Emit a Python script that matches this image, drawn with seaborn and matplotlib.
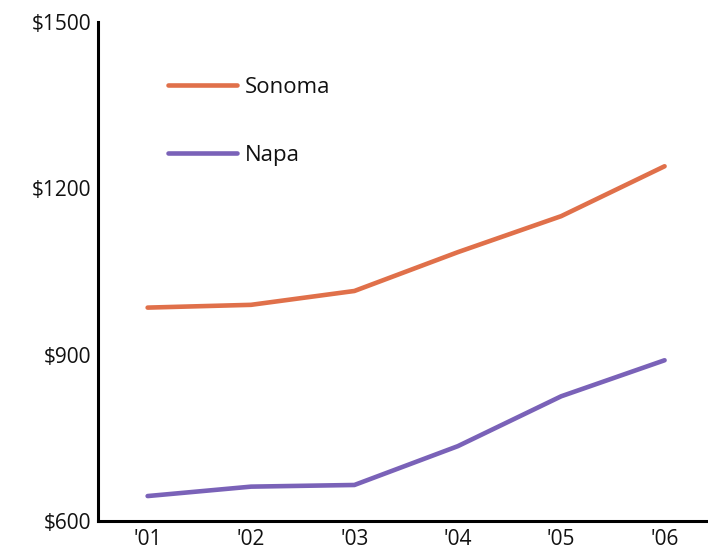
import numpy as np
import pandas as pd
import matplotlib
matplotlib.use("Agg")
import matplotlib.pyplot as plt
import seaborn as sns

years = ["'01", "'02", "'03", "'04", "'05", "'06"]
sonoma = [985, 990, 1015, 1085, 1150, 1240]
napa = [645, 662, 665, 735, 825, 890]
y_ticks = [600, 900, 1200, 1500]

df = pd.DataFrame({
    'pos': list(range(len(years))) * 2,
    'value': sonoma + napa,
    'region': ['Sonoma'] * len(years) + ['Napa'] * len(years),
})

sns.set_style('white')
plt.rcParams['font.family'] = ['Open Sans', 'DejaVu Sans']

fig = plt.figure(figsize=(7.08, 5.58), dpi=100)
ax = fig.add_axes([0.1384, 0.0663, 0.8616, 0.894])

sns.lineplot(data=df, x='pos', y='value', hue='region',
             palette={'Sonoma': '#E0704A', 'Napa': '#7A62B8'},
             linewidth=3.3, ax=ax)

ax.set_ylim(600, 1500)
ax.set_xlim(-0.48, 5.42)
ax.set_yticks(y_ticks)
ax.set_yticklabels([f'${v}' for v in y_ticks])
ax.set_xticks(range(len(years)))
ax.set_xticklabels(years)
ax.set_xticks([i + 0.5 for i in range(len(years) - 1)], minor=True)
ax.tick_params(axis='x', which='major', length=0, pad=6, labelsize=15,
               labelcolor='#111111')
ax.tick_params(axis='x', which='minor', direction='in', length=9, width=2.2)
ax.tick_params(axis='y', direction='in', length=9, width=2.2, pad=5,
               labelsize=15, labelcolor='#111111')
ax.set_xlabel('')
ax.set_ylabel('')

for side in ['top', 'right']:
    ax.spines[side].set_visible(False)
for side in ['left', 'bottom']:
    ax.spines[side].set_color('black')
    ax.spines[side].set_linewidth(2.2)

leg = ax.legend(loc='upper left', bbox_to_anchor=(0.082, 0.93), frameon=False,
                handlelength=3.1, handletextpad=0.35, labelspacing=2.1,
                fontsize=16)
for text in leg.get_texts():
    text.set_color('#111111')
for line in leg.get_lines():
    line.set_linewidth(3.3)

fig.savefig('out.png', dpi=100)
